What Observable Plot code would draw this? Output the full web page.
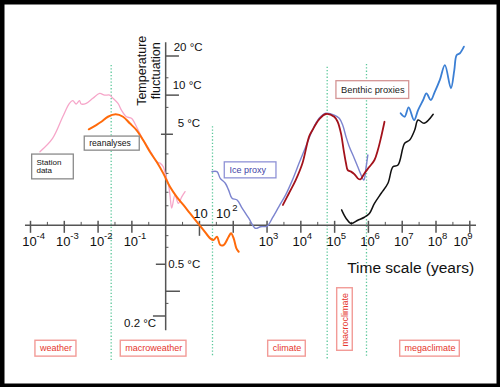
<!DOCTYPE html>
<html><head><meta charset="utf-8">
<script src="https://cdn.jsdelivr.net/npm/d3@7"></script>
<script src="https://cdn.jsdelivr.net/npm/@observablehq/plot@0.6"></script>
<style>body{margin:0;background:#fff}#chart svg{display:block}</style>
</head><body><div id="chart"></div>
<script>
// ---- data (time scale in years, fluctuation in °C) ----
const stationTime = [1.9e-4,4.5e-4,9.0e-4,1.42e-3,1.78e-3,2.25e-3,2.81e-3,3.16e-3,4.46e-3,7.0e-3,1.11e-2,1.56e-2,2.2e-2,2.75e-2,3.88e-2,4.9e-2,6.9e-2,9.7e-2,0.137,0.215,0.272,0.383,0.54,0.68,0.85,1.02,1.19,1.34,1.51,1.89,2.37,2.99,3.75];
const stationTemp = [3.67,4.65,6.82,8.65,9.06,8.55,9.06,8.55,8.65,9.45,10.3,10.0,10.0,9.45,8.65,7.68,6.82,6.63,5.71,4.51,4.13,3.57,3.07,3.0,2.81,2.36,2.1,1.71,1.35,1.71,1.47,1.65,1.81];

const reanTime = [5.3e-3,8.8e-3,1.25e-2,1.96e-2,3.32e-2,5.47e-2,8.66e-2,0.137,0.215,0.341,0.54,0.85,1.34,2.12,3.34,5.29,8.37,13.2,20.8,26.1,33,41.3,51.8,73,86,103,124,145];
const reanTemp = [5.46,5.89,6.24,6.82,7.12,6.82,6.07,5.39,4.51,3.67,3.07,2.5,1.97,1.65,1.43,1.23,1.06,0.917,0.791,0.768,0.814,0.703,0.703,0.814,0.865,0.791,0.663,0.624];

const iceTime = [23.4,33,41.3,58.2,73,92,130,183,287,455,641,1014,1428,2244,3554,5623,8836,14000,22130,34800,55100,97300,137000,173000,217000,272000,383000,484000,607000,730000,855000,960000];
const iceTemp = [2.58,2.58,2.29,2.1,1.86,1.61,1.56,1.35,1.13,0.945,0.972,0.984,1.13,1.39,1.71,2.22,2.99,4.01,5.39,6.63,7.25,7.03,6.63,5.89,4.79,4.01,3.26,2.81,2.43,2.22,2.81,3.46];

const benthicTime = [2951,4456,7047,11160,17540,22130,34800,55100,97300,123000,154000,185000,217000,244000,306000,383000,484000,578000,760000,1.07e6,1.51e6,1.9e6,2.39e6,2.99e6];
const benthicTemp = [1.43,1.76,2.22,2.99,4.79,5.39,6.51,7.16,6.82,6.24,5.08,3.78,2.99,2.65,2.58,2.47,2.29,2.25,2.5,2.81,3.17,3.78,4.79,6.24];

const blackTime = [161000,217000,306000,484000,760000,1.07e6,1.51e6,2.39e6,3.78e6,5.32e6,7.5e6,1.18e7,1.66e7,2.34e7,2.95e7,4.45e7,8.26e7];
const blackTemp = [1.31,1.13,1.03,1.09,1.15,1.23,1.47,1.76,2.1,2.81,2.9,4.26,4.51,5.39,6.43,6.07,7.12];

const megaTime = [8.96e6,1.18e7,1.55e7,2.24e7,2.95e7,4.16e7,5.21e7,7.0e7,9.2e7,1.3e8,1.83e8,2.76e8,3.48e8,4.07e8,5.1e8,6.7e8];
const megaTemp = [7.25,6.82,8.06,6.43,7.68,9.17,10.3,9.17,10.6,13.1,17.0,11.3,15.6,20.3,21.0,23.6];

const phaseBoundaries = [0.0244, 24.3, 60200, 877000];
const phaseNames = ["weather","macroweather","climate","macroclimate","megaclimate"];

const xTickExps = [-4,-3,-2,-1,3,4,5,6,7,8,9];
const xTickExpsAbove = [1,2];
const xMinorTicks = [3.16e-4,3.16e-3,3.16e-2,0.316,3.16,31.6,316,3160,3.16e4,3.16e5,3.16e6,3.16e7,3.16e8];
const yTickValues = [20,10,5,0.5,0.31,0.2];
const yTickLabels = ["20 °C","10 °C","5 °C","0.5 °C",null,"0.2 °C"];
const yMinorTicks = [13.6,8.05,3.53,2.5,1.79,1.41,0.83,0.675,0.25];

// ---- build ----
const zip = (ts, vs) => ts.map((t, i) => ({t, v: vs[i]}));
const sans = "'Liberation Sans', Arial, sans-serif";
const axisColor = "#555";
const ink = "#111";
// one text mark per label so that offsets can differ
const label = (x, y, text, opts = {}) => Plot.text([text], {x: () => x, y: () => y, text: d => d, fill: ink, ...opts});

const curves = [
  {d: zip(stationTime, stationTemp), c: "#f6a6c9", w: 1.3},
  {d: zip(reanTime, reanTemp), c: "#ff6a0a", w: 2},
  {d: zip(iceTime, iceTemp), c: "#7c84cf", w: 1.4},
  {d: zip(benthicTime, benthicTemp), c: "#a3121b", w: 1.8},
  {d: zip(blackTime, blackTemp), c: "#111", w: 1.5},
  {d: zip(megaTime, megaTemp), c: "#3b7fd4", w: 1.8}
];

const dotted = phaseBoundaries.map((t, i) => ({t, top: [16.9, 5.72, 16.4, 17.2][i], bottom: [0.0908, 0.0957, 0.0908, 0.0957][i]}));

const phaseBoxes = [
  {name: phaseNames[0], x1: 1.4e-4, x2: 2.29e-3, xc: 5.66e-4},
  {name: phaseNames[1], x1: 0.0469, x2: 4.13, xc: 0.441},
  {name: phaseNames[2], x1: 1080, x2: 14000, xc: 3890},
  {name: phaseNames[4], x1: 8.71e6, x2: 5.06e8, xc: 6.64e7}
];
const macroBox = [{name: phaseNames[3], x1: 1.19e5, x2: 3.44e5, y1: 0.327, y2: 0.108, xc: 2.02e5, yc: 0.1875}];

const labelBoxes = [
  {x1: 1.12e-4, x2: 1.91e-3, y1: 3.49, y2: 2.25, stroke: "#8a8a8a"},
  {x1: 4.03e-3, x2: 0.171, y1: 4.8, y2: 3.74, stroke: "#8a8a8a"},
  {x1: 56.1, x2: 1900, y1: 3.04, y2: 2.29, stroke: "#8f92d6"},
  {x1: 1.13e5, x2: 1.61e7, y1: 12.8, y2: 9.35, stroke: "#d49494"}
];

const yTickSpan = [
  {x1: 1, x2: 2.56}, {x1: 1, x2: 2.56}, {x1: 0.75, x2: 1.7},
  {x1: 0.53, x2: 1}, {x1: 1, x2: 2.74}, {x1: 0.435, x2: 1}
];
const yTicks = yTickValues.map((v, i) => ({v, label: yTickLabels[i], ...yTickSpan[i]}));
const yLabelPos = [
  {dx: 8, dy: -5.5, textAnchor: "start"}, {dx: 7, dy: -6.6, textAnchor: "start"}, {dx: 12, dy: -7.6, textAnchor: "start"},
  {dx: 2.5, dy: 3.5, textAnchor: "start"}, null, {dx: -9.5, dy: 11, textAnchor: "end"}
];

const chart = Plot.plot({
  width: 500, height: 387, margin: 0,
  x: {type: "log", domain: [1e-4, 1e9], range: [30, 469.3], axis: null},
  y: {type: "log", domain: [0.2, 20], range: [315.5, 55.5], axis: null},
  style: {fontFamily: sans, background: "white", overflow: "visible"},
  marks: [
    // phase boundaries
    Plot.ruleX(dotted, {x: "t", y1: "top", y2: "bottom", stroke: "#5cc79b", strokeWidth: 1.3, strokeDasharray: "1.3,2"}),
    // axes
    Plot.ruleY([1], {x1: 7.1e-5, x2: 1.58e9, stroke: axisColor, strokeWidth: 1.5}),
    Plot.ruleX([1], {y1: 0.154, y2: 25.3, stroke: axisColor, strokeWidth: 1.5}),
    Plot.ruleX(xTickExps.concat([2]).map(e => 10 ** e), {y1: 1.07, y2: 0.865, stroke: axisColor, strokeWidth: 1.5}),
    Plot.ruleX([10], {y1: 1.07, y2: 0.82, stroke: axisColor, strokeWidth: 1.5}),
    Plot.ruleX(xMinorTicks, {y1: 1.05, y2: 0.99, stroke: axisColor, strokeWidth: 1}),
    Plot.ruleY(yTicks, {y: "v", x1: "x1", x2: "x2", stroke: axisColor, strokeWidth: 1.5}),
    Plot.ruleY(yMinorTicks, {x1: 1, x2: 1.25, stroke: axisColor, strokeWidth: 1}),
    // x tick labels
    ...xTickExps.map(e => label(10 ** e, 1, "10", {fontSize: 13, lineAnchor: "bottom", dy: 20.5, dx: e === 9 ? -9 : -1})),
    ...xTickExps.map(e => label(10 ** e, 1, String(e), {fontSize: 9.5, lineAnchor: "bottom", textAnchor: "start", dy: 13.8, dx: e === 9 ? -2.5 : 6})),
    ...xTickExpsAbove.map(e => label(10 ** e, 1, "10", {fontSize: 13, lineAnchor: "bottom", dy: -7.5, dx: e === 1 ? 1 : -10})),
    label(10 ** xTickExpsAbove[1], 1, String(xTickExpsAbove[1]), {fontSize: 9.5, lineAnchor: "bottom", textAnchor: "start", dy: -13.8, dx: -1}),
    // y tick labels
    ...yTicks.map((d, i) => d.label ? label(1, d.v, d.label, {fontSize: 11.5, lineAnchor: "bottom", ...yLabelPos[i]}) : null).filter(Boolean),
    // axis titles
    label(0.316, 15.4, "Temperature\nfluctuation", {rotate: -90, fontSize: 12.5, lineHeight: 1.07}),
    label(2.35e5, 1, "Time scale (years)", {fontSize: 15.5, lineAnchor: "bottom", textAnchor: "start", dy: 47.5}),
    // curves
    ...curves.map(s => Plot.line(s.d, {x: "t", y: "v", stroke: s.c, strokeWidth: s.w, curve: "catmull-rom"})),
    // label boxes
    Plot.rect(labelBoxes, {x1: "x1", x2: "x2", y1: "y1", y2: "y2", fill: "white", stroke: "stroke", strokeWidth: 1.3}),
    label(1.5e-4, 2.84, "Station\ndata", {fontSize: 8, lineHeight: 1.1, textAnchor: "start"}),
    label(0.0225, 4.24, "reanalyses", {fontSize: 8.6}),
    label(267, 2.64, "Ice proxy", {fontSize: 9, fill: "#3f43a8"}),
    label(1.35e6, 10.9, "Benthic proxies", {fontSize: 9.3, fill: "#222"}),
    // phase boxes
    Plot.rect(phaseBoxes, {x1: "x1", x2: "x2", y1: () => 0.129, y2: () => 0.0974, fill: "white", stroke: "#f29b97", strokeWidth: 1.4}),
    Plot.text(phaseBoxes, {x: "xc", y: () => 0.1124, text: "name", fontSize: 9, fill: "#e5352c"}),
    Plot.rect(macroBox, {x1: "x1", x2: "x2", y1: "y1", y2: "y2", fill: "white", stroke: "#f29b97", strokeWidth: 1.4}),
    Plot.text(macroBox, {x: "xc", y: "yc", text: "name", rotate: -90, fontSize: 9, fill: "#e5352c"}),
    // outer border
    Plot.frame({stroke: "black", strokeWidth: 8})
  ]
});
document.getElementById("chart").appendChild(chart);
</script></body></html>
